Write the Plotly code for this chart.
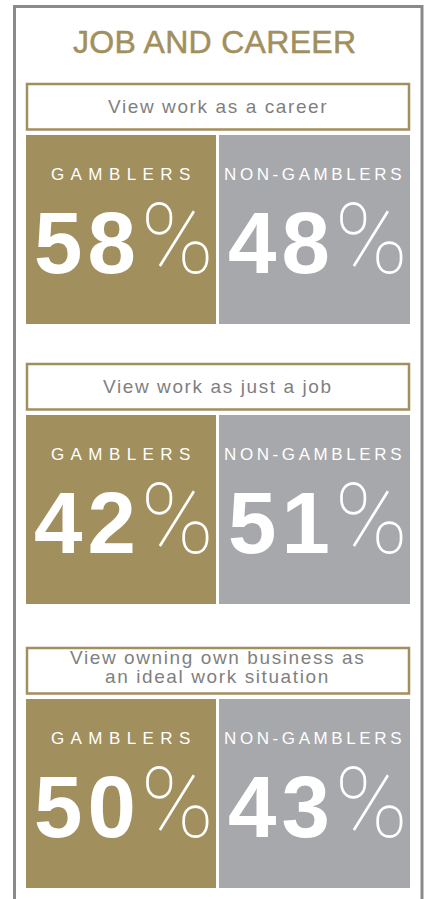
import plotly.graph_objects as go

# ---------------- data ----------------
title = "JOB AND CAREER"
questions = [
    ["View work as a career"],
    ["View work as just a job"],
    ["View owning own business as", "an ideal work situation"],
]
group_labels = ["GAMBLERS", "NON-GAMBLERS"]
gamblers_pct = [58, 42, 50]
non_gamblers_pct = [48, 51, 43]

# ---------------- style / layout constants ----------------
W, H = 427, 899
GOLD = "#a28f5e"
GREY_BOX = "#a7a8ab"
LABEL_GREY = "#7f7f7f"
FRAME = "#8a8a8a"
FONT = "Liberation Sans, Arial, Helvetica, sans-serif"

panel_tops = [83, 363, 647]
box_x = [(26, 216), (219, 410)]
label_box = (27, 409)

fig = go.Figure()
shapes = []
annotations = []

# outer frame
shapes.append(dict(type="rect", xref="x", yref="y", x0=14.5, x1=422, y0=6.5, y1=H + 10,
                   line=dict(color=FRAME, width=3), fillcolor="rgba(0,0,0,0)", layer="above"))

# title
annotations.append(dict(x=W / 2 + 1, y=42, xref="x", yref="y",
                        text=f'<span style="stroke:{GOLD};stroke-width:0.5px;letter-spacing:0.3px">{title}</span>',
                        showarrow=False, xanchor="center", yanchor="middle",
                        font=dict(family=FONT, size=32, color=GOLD)))

group_spacing = [6.4, 3.6]
group_shift = [0, -2]
values = list(zip(gamblers_pct, non_gamblers_pct))

for i, T in enumerate(panel_tops):
    # question box
    shapes.append(dict(type="rect", xref="x", yref="y", x0=label_box[0], x1=label_box[1],
                       y0=T + 1, y1=T + 46.5, line=dict(color=GOLD, width=2.5),
                       fillcolor="white", layer="above"))
    lines = questions[i]
    if len(lines) == 1:
        ys = [T + 23]
    else:
        ys = [T + 10.5, T + 29.5]
    for ln, yy in zip(lines, ys):
        annotations.append(dict(x=(label_box[0] + label_box[1]) / 2 - 0.5, y=yy, xref="x", yref="y",
                                text=f'<span style="letter-spacing:1.6px">{ln}</span>',
                                showarrow=False, xanchor="center", yanchor="middle",
                                font=dict(family=FONT, size=19, color=LABEL_GREY)))
    # coloured boxes
    for j, (x0, x1) in enumerate(box_x):
        shapes.append(dict(type="rect", xref="x", yref="y", x0=x0, x1=x1, y0=T + 52, y1=T + 241,
                           line=dict(width=0), fillcolor=GOLD if j == 0 else GREY_BOX, layer="above"))
        cx = (x0 + x1) / 2
        sp = group_spacing[j]
        annotations.append(dict(x=cx + sp / 2 + group_shift[j], y=T + 91.5, xref="x", yref="y",
                                text=f'<span style="letter-spacing:{sp}px">{group_labels[j]}</span>',
                                showarrow=False, xanchor="center", yanchor="middle",
                                font=dict(family=FONT, size=17, color="white")))
        v = values[i][j]
        num = (f'<span style="letter-spacing:5px;font-weight:bold">{v}</span>'
               f'<span style="font-family:Roboto;font-weight:100;font-size:98px">%</span>')
        annotations.append(dict(x=cx + 3, y=T + 156, xref="x", yref="y", text=num,
                                showarrow=False, xanchor="center", yanchor="middle",
                                font=dict(family=FONT, size=87, color="white")))

fig.update_layout(
    width=W, height=H,
    margin=dict(l=0, r=0, t=0, b=0),
    paper_bgcolor="white", plot_bgcolor="white",
    xaxis=dict(range=[0, W], visible=False, fixedrange=True, domain=[0, 1]),
    yaxis=dict(range=[H, 0], visible=False, fixedrange=True, domain=[0, 1]),
    shapes=shapes, annotations=annotations, showlegend=False,
)

fig.write_html(
    "out.html",
    config={"displayModeBar": False, "staticPlot": True},
    post_script="document.body.style.margin='0';document.body.style.overflow='hidden';",
)
